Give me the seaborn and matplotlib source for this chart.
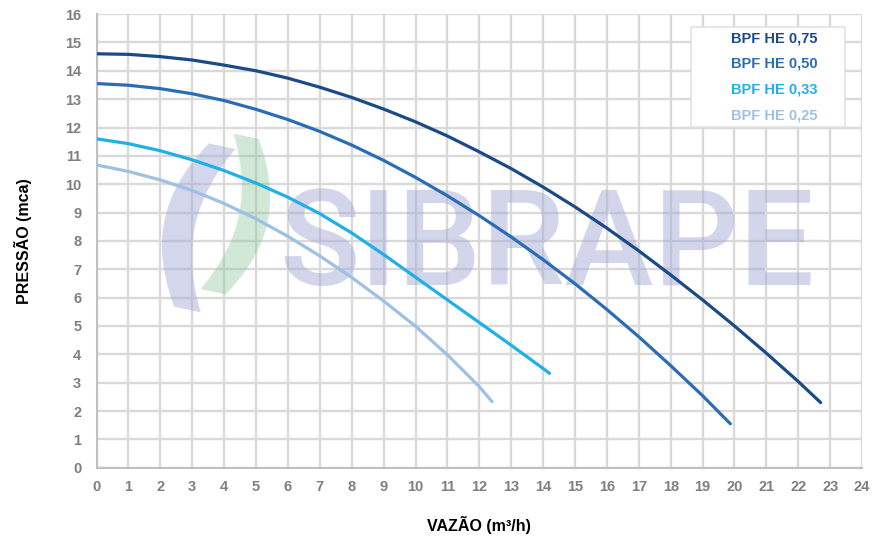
import pandas as pd
import seaborn as sns
import matplotlib.pyplot as plt
from matplotlib.patches import Rectangle
from matplotlib.ticker import MultipleLocator

# --- DADOS ---
modelos = ['BPF HE 0,75', 'BPF HE 0,50', 'BPF HE 0,33', 'BPF HE 0,25']
cores = ['#1a4a87', '#2b6db4', '#1eb0e6', '#9dc1e4']

vazao_075 = [0, 1, 2, 3, 4, 5, 6, 7, 8, 9, 10, 11, 12, 13, 14, 15, 16, 17, 18, 19, 20, 21, 22, 22.7]
pressao_075 = [14.6, 14.58, 14.5, 14.38, 14.2, 14.0, 13.74, 13.42, 13.06, 12.65, 12.2, 11.7, 11.14,
               10.55, 9.9, 9.2, 8.45, 7.65, 6.8, 5.92, 5.0, 4.04, 3.04, 2.3]

vazao_050 = [0, 1, 2, 3, 4, 5, 6, 7, 8, 9, 10, 11, 12, 13, 14, 15, 16, 17, 18, 19, 19.87]
pressao_050 = [13.55, 13.49, 13.37, 13.19, 12.95, 12.64, 12.28, 11.86, 11.38, 10.84, 10.24, 9.59,
               8.89, 8.14, 7.34, 6.49, 5.58, 4.62, 3.6, 2.54, 1.55]

vazao_033 = [0, 1, 2, 3, 4, 5, 6, 7, 8, 9, 10, 11, 12, 13, 14, 14.2]
pressao_033 = [11.6, 11.43, 11.18, 10.86, 10.48, 10.04, 9.54, 8.96, 8.28, 7.52, 6.72, 5.92, 5.12,
               4.32, 3.5, 3.33]

vazao_025 = [0, 1, 2, 3, 4, 5, 6, 7, 8, 9, 10, 11, 12, 12.4]
pressao_025 = [10.68, 10.45, 10.15, 9.78, 9.32, 8.78, 8.16, 7.47, 6.71, 5.88, 4.99, 3.98, 2.86, 2.33]

xticks = list(range(0, 25))
yticks = list(range(0, 17))

# tabela longa pro seaborn
partes = []
for nome, vx, vy in zip(modelos,
                        [vazao_075, vazao_050, vazao_033, vazao_025],
                        [pressao_075, pressao_050, pressao_033, pressao_025]):
    partes.append(pd.DataFrame({'vazao': vx, 'pressao': vy, 'modelo': nome}))
df = pd.concat(partes, ignore_index=True)

# --- ESTILO ---
sns.set_style('white')
plt.rcParams['font.family'] = ['Liberation Sans', 'DejaVu Sans']

fig = plt.figure(figsize=(8.86, 5.42), dpi=100)
ax = fig.add_axes([0.109, 0.137, 0.864, 0.837])

sns.lineplot(data=df, x='vazao', y='pressao', hue='modelo', hue_order=modelos,
             palette=dict(zip(modelos, cores)), sort=False, linewidth=2.3,
             solid_capstyle='round', solid_joinstyle='round', ax=ax, zorder=3, legend=False)

# marca d'agua (logo + nome)
ax.text(14.1, 7.75, 'SIBRAPE', fontsize=96, family='Roboto', fontweight='medium',
        color='#a9aed8', alpha=0.5, ha='center', va='center', zorder=1.5)
ax.text(2.9, 8.2, '(', fontsize=135, family='DejaVu Sans', fontweight='bold',
        color='#a9aed8', alpha=0.5, ha='center', va='center', zorder=1.5, rotation=-12)
ax.text(4.5, 8.5, ')', fontsize=128, family='DejaVu Sans', fontweight='bold',
        color='#8fc79a', alpha=0.4, ha='center', va='center', zorder=1.5, rotation=-12)

# eixos
ax.set_xlim(0, 24)
ax.set_ylim(0, 16)
ax.set_xticks(xticks)
ax.set_yticks(yticks)
ax.xaxis.set_minor_locator(MultipleLocator(0.5))
ax.yaxis.set_minor_locator(MultipleLocator(0.5))
ax.set_axisbelow(True)
ax.grid(True, which='major', color='#d9d9d9', lw=1.7)
ax.tick_params(which='major', length=0, labelsize=10.5, labelcolor='#7f7f7f')
ax.tick_params(axis='x', which='major', pad=9)
ax.tick_params(axis='y', which='major', pad=11)
ax.tick_params(which='minor', direction='in', length=3, color='#c8c8c8', width=1)
for lab in ax.get_xticklabels() + ax.get_yticklabels():
    lab.set_fontweight('bold')

for s in ['top', 'right']:
    ax.spines[s].set_visible(False)
for s in ['left', 'bottom']:
    ax.spines[s].set_color('#c0c0c0')
    ax.spines[s].set_linewidth(1.5)

ax.set_xlabel('VAZÃO (m³/h)', fontsize=11.5, fontweight='bold', color='black', labelpad=16)
ax.set_ylabel('PRESSÃO (mca)', fontsize=11.5, fontweight='bold', color='black', labelpad=24)

# legenda so com texto colorido, caixa desenhada a parte
caixa = Rectangle((0.777, 0.751), 0.201, 0.220, transform=ax.transAxes, facecolor='white',
                  edgecolor='#e2e2e2', lw=1.2, zorder=4)
ax.add_patch(caixa)
handles = [plt.Line2D([], [], color=c, lw=2) for c in cores]
leg = ax.legend(handles, modelos, loc='upper left', bbox_to_anchor=(0.829, 0.962),
                borderaxespad=0, frameon=False, handlelength=0, handletextpad=0,
                labelspacing=0.8, borderpad=0, prop={'weight': 'bold', 'size': 10.5})
leg.set_zorder(5)
for h in leg.legend_handles:
    h.set_visible(False)
for txt, c in zip(leg.get_texts(), cores):
    txt.set_color(c)

plt.savefig('out.png', dpi=100)
